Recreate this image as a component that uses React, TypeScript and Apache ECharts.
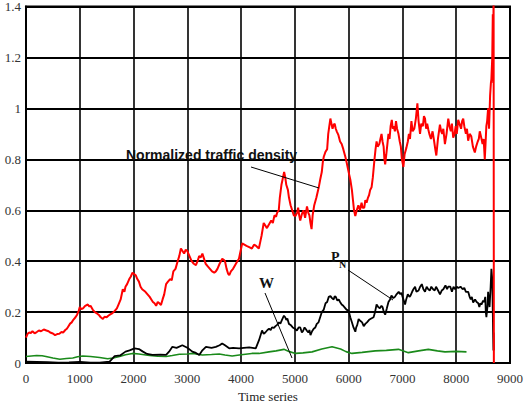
import React, { useEffect, useRef } from "react";
import * as echarts from "echarts";

const xTicks = [0, 1000, 2000, 3000, 4000, 5000, 6000, 7000, 8000, 9000];
const yTicks = [0, 0.2, 0.4, 0.6, 0.8, 1, 1.2, 1.4];

const trafficDensity: [number, number][] = [
  [0, 0.1], [30, 0.115], [60, 0.12], [90, 0.118], [120, 0.125], [160, 0.117], [200, 0.122], [240, 0.128],
  [280, 0.125], [330, 0.132], [380, 0.128], [420, 0.125], [450, 0.12], [500, 0.116], [540, 0.11], [580, 0.114],
  [620, 0.115], [660, 0.122], [690, 0.12], [730, 0.13], [760, 0.135], [790, 0.145], [820, 0.155], [850, 0.16],
  [880, 0.17], [920, 0.18], [950, 0.19], [980, 0.205], [1000, 0.22], [1030, 0.212], [1060, 0.215], [1100, 0.225],
  [1150, 0.23], [1180, 0.222], [1200, 0.225], [1240, 0.21], [1280, 0.2], [1320, 0.195], [1350, 0.19], [1390, 0.18],
  [1430, 0.173], [1460, 0.182], [1500, 0.18], [1530, 0.186], [1560, 0.19], [1600, 0.195], [1650, 0.205], [1690, 0.215],
  [1720, 0.23], [1760, 0.25], [1800, 0.29], [1830, 0.28], [1850, 0.3], [1880, 0.31], [1920, 0.33], [1950, 0.34],
  [1980, 0.355], [2010, 0.35], [2040, 0.345], [2070, 0.33], [2100, 0.32], [2130, 0.3], [2160, 0.29], [2190, 0.285],
  [2220, 0.28], [2260, 0.27], [2300, 0.26], [2330, 0.25], [2360, 0.24], [2390, 0.235], [2420, 0.225], [2450, 0.24],
  [2480, 0.235], [2510, 0.228], [2540, 0.25], [2570, 0.27], [2605, 0.31], [2640, 0.32], [2680, 0.33], [2710, 0.325],
  [2740, 0.36], [2780, 0.37], [2820, 0.4], [2850, 0.42], [2880, 0.45], [2910, 0.44], [2940, 0.43], [2970, 0.445],
  [3000, 0.44], [3040, 0.42], [3080, 0.4], [3120, 0.39], [3160, 0.385], [3190, 0.4], [3220, 0.42], [3250, 0.415],
  [3280, 0.43], [3310, 0.41], [3340, 0.39], [3380, 0.38], [3420, 0.37], [3460, 0.36], [3500, 0.355], [3530, 0.36],
  [3560, 0.37], [3600, 0.39], [3650, 0.41], [3680, 0.405], [3700, 0.4], [3730, 0.37], [3760, 0.35], [3780, 0.345],
  [3810, 0.36], [3850, 0.37], [3890, 0.385], [3930, 0.4], [3960, 0.41], [3980, 0.43], [4000, 0.45], [4020, 0.47],
  [4060, 0.465], [4100, 0.46], [4150, 0.455], [4200, 0.45], [4240, 0.465], [4280, 0.46], [4330, 0.45], [4360, 0.48],
  [4380, 0.5], [4420, 0.55], [4450, 0.54], [4480, 0.53], [4520, 0.545], [4560, 0.56], [4590, 0.55], [4620, 0.58],
  [4650, 0.575], [4670, 0.59], [4700, 0.6], [4720, 0.65], [4750, 0.7], [4770, 0.72], [4800, 0.75], [4820, 0.73],
  [4840, 0.7], [4870, 0.68], [4890, 0.65], [4920, 0.62], [4950, 0.6], [4980, 0.58], [5010, 0.577], [5040, 0.59],
  [5060, 0.61], [5080, 0.58], [5100, 0.56], [5130, 0.585], [5160, 0.6], [5190, 0.57], [5225, 0.615], [5250, 0.59],
  [5270, 0.58], [5290, 0.55], [5310, 0.526], [5330, 0.58], [5360, 0.62], [5400, 0.65], [5444, 0.69], [5470, 0.72],
  [5500, 0.75], [5520, 0.79], [5537, 0.81], [5570, 0.83], [5600, 0.84], [5620, 0.9], [5640, 0.93], [5660, 0.96],
  [5680, 0.94], [5700, 0.92], [5720, 0.935], [5740, 0.94], [5760, 0.92], [5778, 0.91], [5810, 0.895], [5840, 0.87],
  [5870, 0.86], [5900, 0.84], [5938, 0.81], [5960, 0.79], [5990, 0.76], [6010, 0.74], [6031, 0.72], [6060, 0.68],
  [6080, 0.64], [6100, 0.6], [6123, 0.577], [6150, 0.6], [6180, 0.62], [6210, 0.6], [6240, 0.63], [6260, 0.61],
  [6290, 0.61], [6310, 0.64], [6333, 0.63], [6360, 0.65], [6380, 0.66], [6400, 0.68], [6426, 0.69], [6450, 0.73],
  [6480, 0.8], [6500, 0.84], [6519, 0.87], [6540, 0.85], [6570, 0.86], [6590, 0.88], [6611, 0.9], [6630, 0.87],
  [6650, 0.85], [6665, 0.8], [6679, 0.78], [6700, 0.82], [6720, 0.86], [6740, 0.9], [6760, 0.88], [6780, 0.93],
  [6802, 0.955], [6820, 0.92], [6840, 0.93], [6860, 0.91], [6880, 0.95], [6900, 0.92], [6926, 0.9], [6950, 0.87],
  [6970, 0.85], [6990, 0.8], [7018, 0.77], [7040, 0.82], [7074, 0.846], [7100, 0.87], [7120, 0.9], [7140, 0.88],
  [7167, 0.95], [7190, 0.91], [7220, 0.92], [7250, 0.96], [7278, 1.02], [7300, 0.95], [7327, 0.9], [7350, 0.94],
  [7380, 0.93], [7400, 0.97], [7420, 0.96], [7440, 0.92], [7460, 0.94], [7481, 0.917], [7500, 0.9], [7530, 0.88],
  [7560, 0.91], [7590, 0.87], [7610, 0.84], [7630, 0.815], [7660, 0.88], [7697, 0.936], [7720, 0.91], [7740, 0.9],
  [7760, 0.92], [7790, 0.86], [7820, 0.9], [7852, 0.96], [7875, 0.93], [7900, 0.91], [7920, 0.94], [7944, 0.885],
  [7970, 0.9], [7990, 0.93], [8010, 0.9], [8037, 0.955], [8060, 0.94], [8090, 0.92], [8110, 0.95], [8130, 0.96],
  [8150, 0.93], [8180, 0.9], [8200, 0.92], [8222, 0.873], [8250, 0.9], [8280, 0.89], [8310, 0.85], [8346, 0.827],
  [8370, 0.85], [8400, 0.87], [8420, 0.88], [8438, 0.91], [8460, 0.89], [8490, 0.86], [8510, 0.88], [8531, 0.8],
  [8545, 0.86], [8560, 0.93], [8575, 0.95], [8593, 1.0], [8610, 0.92], [8630, 1.05], [8645, 1.1], [8654, 1.115],
  [8670, 1.2], [8680, 1.37], [8688, 1.1], [8695, 1.5], [8700, 0],
];

const pN: [number, number][] = [
  [0, 0.006], [200, 0.005], [400, 0.004], [600, 0.002], [800, 0.003], [1000, 0.005], [1200, 0.002],
  [1370, 0.002], [1555, 0.006], [1648, 0.027], [1750, 0.03], [1850, 0.045], [1926, 0.05], [2018, 0.058],
  [2100, 0.055], [2167, 0.046], [2250, 0.036], [2352, 0.032], [2500, 0.033], [2605, 0.032], [2660, 0.045],
  [2722, 0.064], [2800, 0.06], [2907, 0.07], [3000, 0.06], [3093, 0.045], [3160, 0.04], [3222, 0.032],
  [3280, 0.05], [3346, 0.064], [3450, 0.06], [3530, 0.064], [3600, 0.07], [3648, 0.077], [3700, 0.07],
  [3778, 0.058], [3850, 0.06], [3963, 0.058], [4050, 0.06], [4150, 0.062], [4272, 0.058], [4333, 0.09],
  [4389, 0.128], [4420, 0.115], [4450, 0.12], [4490, 0.13], [4520, 0.135], [4550, 0.13], [4574, 0.14],
  [4610, 0.138], [4640, 0.145], [4670, 0.15], [4704, 0.16], [4730, 0.155], [4760, 0.17], [4796, 0.186],
  [4820, 0.18], [4840, 0.17], [4860, 0.175], [4889, 0.154], [4920, 0.15], [4960, 0.14], [5000, 0.135],
  [5037, 0.128], [5070, 0.14], [5100, 0.14], [5130, 0.12], [5150, 0.125], [5180, 0.14], [5198, 0.135],
  [5230, 0.125], [5250, 0.12], [5270, 0.13], [5290, 0.11], [5320, 0.125], [5350, 0.135], [5380, 0.14],
  [5407, 0.154], [5440, 0.16], [5470, 0.18], [5500, 0.2], [5537, 0.21], [5570, 0.235], [5600, 0.24],
  [5630, 0.26], [5661, 0.263], [5690, 0.255], [5720, 0.25], [5740, 0.262], [5760, 0.26], [5790, 0.245],
  [5815, 0.25], [5840, 0.24], [5870, 0.23], [5900, 0.225], [5920, 0.22], [5960, 0.21], [6000, 0.205],
  [6030, 0.18], [6060, 0.16], [6090, 0.14], [6124, 0.123], [6140, 0.14], [6160, 0.15], [6185, 0.173],
  [6220, 0.165], [6250, 0.16], [6280, 0.145], [6309, 0.154], [6340, 0.16], [6380, 0.17], [6420, 0.175],
  [6463, 0.18], [6490, 0.2], [6519, 0.23], [6550, 0.22], [6580, 0.215], [6610, 0.225], [6630, 0.22],
  [6655, 0.2], [6679, 0.19], [6710, 0.215], [6740, 0.24], [6770, 0.25], [6796, 0.265], [6830, 0.255],
  [6860, 0.26], [6890, 0.27], [6930, 0.28], [6960, 0.27], [6981, 0.276], [7010, 0.255], [7049, 0.23],
  [7070, 0.25], [7100, 0.27], [7130, 0.26], [7150, 0.265], [7180, 0.28], [7204, 0.29], [7235, 0.3],
  [7260, 0.28], [7300, 0.285], [7330, 0.3], [7360, 0.31], [7390, 0.29], [7420, 0.28], [7450, 0.3],
  [7480, 0.29], [7510, 0.285], [7537, 0.3], [7570, 0.29], [7600, 0.285], [7625, 0.3], [7650, 0.29],
  [7675, 0.28], [7698, 0.27], [7730, 0.285], [7760, 0.29], [7800, 0.305], [7830, 0.29], [7852, 0.3],
  [7890, 0.3], [7920, 0.28], [7950, 0.3], [7980, 0.29], [8010, 0.3], [8037, 0.295], [8080, 0.3],
  [8120, 0.29], [8150, 0.295], [8180, 0.28], [8222, 0.28], [8250, 0.26], [8270, 0.25], [8290, 0.26],
  [8315, 0.238], [8350, 0.25], [8380, 0.24], [8410, 0.235], [8430, 0.22], [8450, 0.235], [8469, 0.23],
  [8500, 0.245], [8520, 0.24], [8540, 0.26], [8550, 0.2], [8561, 0.18], [8580, 0.22], [8593, 0.28],
  [8610, 0.24], [8620, 0.22], [8640, 0.3], [8654, 0.37], [8670, 0.33], [8680, 0.2], [8685, 0.128],
  [8692, 0.05], [8695, 0.12], [8700, 0.05],
];

const wSeries: [number, number][] = [
  [0, 0.026], [100, 0.028], [198, 0.03], [300, 0.029], [370, 0.026], [500, 0.02], [630, 0.015],
  [750, 0.018], [870, 0.02], [960, 0.025], [1055, 0.028], [1200, 0.026], [1370, 0.022], [1518, 0.017],
  [1620, 0.02], [1740, 0.026], [1850, 0.033], [1981, 0.038], [2100, 0.036], [2296, 0.03], [2450, 0.027],
  [2605, 0.026], [2720, 0.03], [2852, 0.035], [3000, 0.036], [3100, 0.038], [3280, 0.032], [3450, 0.034],
  [3593, 0.036], [3700, 0.032], [3833, 0.028], [4000, 0.033], [4200, 0.038], [4333, 0.038], [4518, 0.044],
  [4650, 0.048], [4796, 0.054], [4900, 0.045], [5012, 0.038], [5150, 0.04], [5320, 0.044], [5500, 0.055],
  [5691, 0.064], [5850, 0.055], [5950, 0.045], [6062, 0.038], [6250, 0.042], [6494, 0.048], [6700, 0.05],
  [6926, 0.054], [7110, 0.041], [7300, 0.048], [7481, 0.054], [7650, 0.048], [7790, 0.044], [8000, 0.046],
  [8191, 0.044],
];

export default function App() {
  const ref = useRef<HTMLDivElement>(null);
  useEffect(() => {
    if (!ref.current) return;
    const chart = echarts.init(ref.current, undefined, { renderer: "svg" });
    const serif = "'Liberation Serif', 'Times New Roman', serif";
    chart.setOption({
      animation: false,
      backgroundColor: "#ffffff",
      grid: {
        left: 26, right: 14, top: 6, bottom: 38,
        show: true, borderColor: "#000", borderWidth: 2, backgroundColor: "transparent",
      },
      xAxis: {
        type: "value", min: 0, max: 9000, interval: 1000,
        name: "Time series", nameLocation: "middle", nameGap: 23,
        nameTextStyle: { fontFamily: serif, fontSize: 13, color: "#222" },
        axisLine: { show: true, lineStyle: { color: "#000", width: 2 } },
        axisTick: { show: false },
        axisLabel: {
          fontFamily: serif, fontSize: 13, color: "#333", margin: 9,
          formatter: (v: number) => (xTicks.includes(v) ? String(v) : ""),
        },
        splitLine: { show: true, lineStyle: { color: "#000", width: 1.6 } },
      },
      yAxis: {
        type: "value", min: 0, max: 1.4, interval: 0.2,
        axisLine: { show: true, lineStyle: { color: "#000", width: 2 } },
        axisTick: { show: false },
        axisLabel: {
          fontFamily: serif, fontSize: 13, color: "#333", margin: 5,
          formatter: (v: number) => {
            const t = yTicks.find((y) => Math.abs(y - v) < 1e-6);
            return t === undefined ? "" : String(t);
          },
        },
        splitLine: { show: true, lineStyle: { color: "#000", width: 1.8 } },
      },
      series: [
        {
          type: "line", data: wSeries, showSymbol: false, symbol: "none",
          lineStyle: { color: "#1a8a1a", width: 1.6 }, z: 3,
        },
        {
          type: "line", data: pN, showSymbol: false, symbol: "none",
          lineStyle: { color: "#000", width: 1.8 }, z: 4,
        },
        {
          type: "line", data: trafficDensity, showSymbol: false, symbol: "none",
          lineStyle: { color: "#ff0000", width: 2 }, z: 5,
        },
      ],
      graphic: [
        {
          type: "text", left: 126, top: 148, z: 10,
          style: {
            text: "Normalized traffic density", fill: "#111",
            font: "bold 14px 'Liberation Sans'",
          },
        },
        {
          type: "line", z: 10,
          shape: { x1: 251, y1: 167, x2: 319, y2: 188 },
          style: { stroke: "#000", lineWidth: 1 },
        },
        {
          type: "text", left: 259, top: 275, z: 10,
          style: { text: "W", fill: "#111", font: "bold 15px 'Liberation Serif'" },
        },
        {
          type: "line", z: 10,
          shape: { x1: 265, y1: 293, x2: 292, y2: 358 },
          style: { stroke: "#000", lineWidth: 1 },
        },
        {
          type: "text", left: 331, top: 250, z: 10,
          style: { text: "P", fill: "#111", font: "bold 14px 'Liberation Serif'" },
        },
        {
          type: "text", left: 339, top: 259, z: 10,
          style: { text: "N", fill: "#111", font: "bold 10px 'Liberation Serif'" },
        },
        {
          type: "line", z: 10,
          shape: { x1: 348, y1: 270, x2: 393, y2: 300 },
          style: { stroke: "#000", lineWidth: 1 },
        },
      ],
    });
    return () => chart.dispose();
  }, []);
  return (
    <div
      ref={ref}
      style={{ position: "fixed", left: 0, top: 0, width: 526, height: 408, background: "#fff" }}
    />
  );
}
